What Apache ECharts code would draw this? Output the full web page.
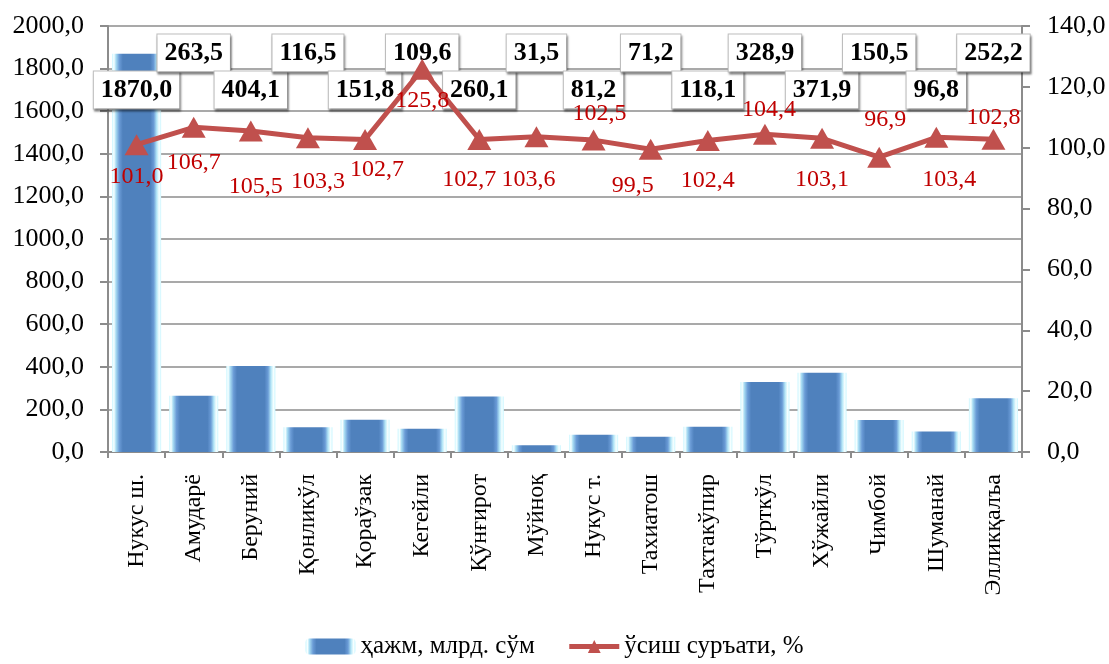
<!DOCTYPE html>
<html>
<head>
<meta charset="utf-8">
<script src="https://cdn.jsdelivr.net/npm/echarts@6/dist/echarts.min.js"></script>
<style>
  html, body { margin: 0; padding: 0; background: #fff; }
  #chart { width: 1109px; height: 664px; }
</style>
</head>
<body>
<div id="chart"></div>
<script>
// categories (districts)
const categories = ['Нукус ш.', 'Амударё', 'Беруний', 'Қонликўл', 'Қораўзак', 'Кегейли', 'Қўнғирот', 'Мўйноқ',
  'Нукус т.', 'Тахиатош', 'Тахтакўпир', 'Тўрткўл', 'Хўжайли', 'Чимбой', 'Шуманай', 'Элликқалъа'];
// ҳажм, млрд. сўм
const volume = [1870.0, 263.5, 404.1, 116.5, 151.8, 109.6, 260.1, 31.5, 81.2, 71.2, 118.1, 328.9, 371.9, 150.5, 96.8, 252.2];
// ўсиш суръати, %
const growth = [101.0, 106.7, 105.5, 103.3, 102.7, 125.8, 102.7, 103.6, 102.5, 99.5, 102.4, 104.4, 103.1, 96.9, 103.4, 102.8];
// label shift for red labels [dx, dy]
const growthLabelShift = [[0, 32], [0, 35], [5, 56], [10, 44], [12, 30], [0, 31], [-10, 40], [-8, 43],
  [6, -26], [-18, 36], [0, 40], [4, -25], [0, 41], [6, -37], [13, 42], [0, -21]];

const FONT = 'Liberation Serif';
const fmt = v => v.toFixed(1).replace('.', ',');

const chart = echarts.init(document.getElementById('chart'));

const barGradient = new echarts.graphic.LinearGradient(0, 0, 1, 0, [
  { offset: 0, color: '#cdf6ff' },
  { offset: 0.04, color: '#f6ffff' },
  { offset: 0.08, color: '#a9ddf3' },
  { offset: 0.15, color: '#6a9bd6' },
  { offset: 0.22, color: '#4f81bd' },
  { offset: 0.78, color: '#4f81bd' },
  { offset: 0.85, color: '#6a9bd6' },
  { offset: 0.91, color: '#b3e6f7' },
  { offset: 0.96, color: '#f6ffff' },
  { offset: 1, color: '#cdf6ff' }
]);

const boxH = 37;

const option = {
  animation: false,
  grid: { left: 108, right: 87, top: 26, bottom: 212 },
  legend: {
    bottom: 0,
    left: 'center',
    itemGap: 32,
    itemWidth: 50,
    itemHeight: 16,
    textStyle: { fontFamily: FONT, fontSize: 25, color: '#000' },
    data: [
      { name: 'ҳажм, млрд. сўм' },
      { name: 'ўсиш суръати, %', lineStyle: { width: 5 } }
    ]
  },
  xAxis: {
    type: 'category',
    data: categories,
    axisLine: { lineStyle: { color: '#8c8c8c', width: 2 } },
    axisTick: { show: true, length: 6, lineStyle: { color: '#8c8c8c', width: 2 } },
    axisLabel: { rotate: 90, margin: 22, fontFamily: FONT, fontSize: 24, color: '#000', interval: 0 }
  },
  yAxis: [
    {
      type: 'value', min: 0, max: 2000, interval: 200,
      axisLine: { show: true, lineStyle: { color: '#8c8c8c', width: 2 } },
      axisTick: { show: true, length: 8, lineStyle: { color: '#8c8c8c', width: 2 } },
      splitLine: { lineStyle: { color: '#8c8c8c', width: 1.5 } },
      axisLabel: { margin: 24, fontFamily: FONT, fontSize: 26, color: '#000', formatter: fmt }
    },
    {
      type: 'value', min: 0, max: 140, interval: 20,
      axisLine: { show: true, lineStyle: { color: '#8c8c8c', width: 2 } },
      axisTick: { show: true, length: 8, lineStyle: { color: '#8c8c8c', width: 2 } },
      splitLine: { show: false },
      axisLabel: { margin: 25, fontFamily: FONT, fontSize: 26, color: '#000', formatter: fmt }
    }
  ],
  series: [
    {
      name: 'ҳажм, млрд. сўм',
      type: 'bar',
      yAxisIndex: 0,
      barCategoryGap: '14%',
      itemStyle: { color: barGradient },
      data: volume,
      z: 2
    },
    {
      name: 'ўсиш суръати, %',
      type: 'line',
      yAxisIndex: 1,
      symbol: 'triangle',
      symbolSize: [24, 21],
      lineStyle: { color: '#c0504d', width: 5 },
      itemStyle: { color: '#c0504d' },
      data: growth.map((v, i) => ({
        value: v,
        label: { offset: growthLabelShift[i] }
      })),
      label: {
        show: true,
        position: 'inside',
        fontFamily: FONT,
        fontSize: 24,
        color: '#c00000',
        formatter: p => fmt(p.value)
      },
      z: 3
    }
  ]
};

chart.setOption(option);

// bar value boxes sit in two alternating rows near the top of the plot
const rowTop = 53, rowLow = 90;
const barData = volume.map((v, i) => {
  const top = chart.convertToPixel({ yAxisIndex: 0 }, v);
  const rowY = i % 2 === 1 ? rowTop : rowLow;
  return {
    value: v,
    label: { offset: [0, rowY - top + boxH / 2] }
  };
});

chart.setOption({
  series: [{
    data: barData,
    label: {
      show: true,
      position: 'top',
      distance: 0,
      fontFamily: FONT,
      fontSize: 26,
      fontWeight: 'bold',
      color: '#000',
      lineHeight: 29,
      padding: [4, 7],
      backgroundColor: '#fff',
      borderColor: '#bdbdbd',
      borderWidth: 1,
      shadowColor: 'rgba(0,0,0,0.35)',
      shadowBlur: 2,
      shadowOffsetX: 1,
      shadowOffsetY: 2,
      formatter: p => fmt(p.value)
    }
  }]
});
</script>
</body>
</html>
